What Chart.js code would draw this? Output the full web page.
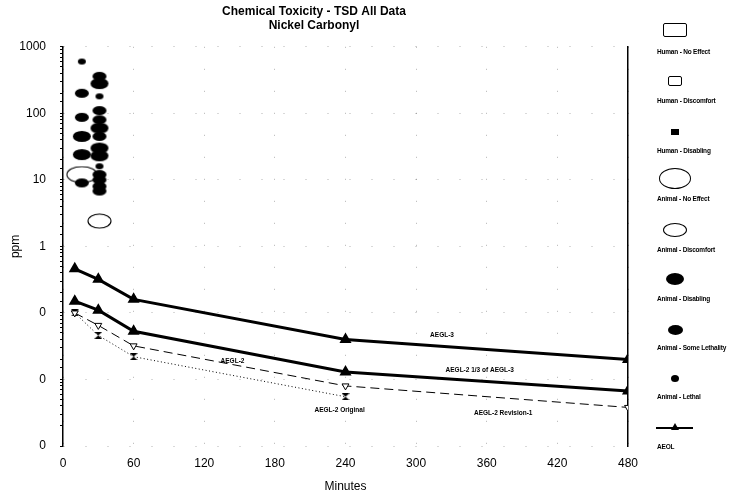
<!DOCTYPE html>
<html>
<head>
<meta charset="utf-8">
<script src="https://cdn.jsdelivr.net/npm/chart.js@4.4.0/dist/chart.umd.min.js"></script>
<style>
  html, body { margin: 0; padding: 0; background: #fff; }
  #wrap { position: relative; width: 741px; height: 496px; font-family: 'Liberation Sans', Arial, sans-serif; }
  #c { position: absolute; left: 0; top: 0; }
  .sym { position: absolute; box-sizing: border-box; }
  .lab { position: absolute; font-size: 6.5px; font-weight: bold; color: #000; white-space: nowrap; letter-spacing: -0.2px; }
</style>
</head>
<body>
<div id="wrap">
  <canvas id="c" width="741" height="496"></canvas>
  <div id="legend"></div>
</div>
<script>
// ---- data ----
const xTicks = [0, 60, 120, 180, 240, 300, 360, 420, 480];
const yTickValues = [1000, 100, 10, 1, 0.1, 0.01, 0.001];

const aeglMinutes = [10, 30, 60, 240, 480];
const aegl3 = [0.46, 0.32, 0.16, 0.040, 0.020];
const aegl2Third = [0.15, 0.11, 0.053, 0.013, 0.0067];
const aegl2Rev1 = [0.10, 0.065, 0.032, 0.0080, 0.0038];
const originalMinutes = [10, 30, 60, 240];
const aegl2Original = [0.10, 0.046, 0.022, 0.0055];

const animalNoEffectMin = [16];
const animalNoEffectPpm = [12];
const animalDiscomfortMin = [31];
const animalDiscomfortPpm = [2.4];
const animalDisablingMin = [16, 16, 31, 31, 31, 31];
const animalDisablingPpm = [45, 24, 280, 60, 30, 23];
const animalSomeLethalMin = [16, 16, 16, 31, 31, 31, 31, 31, 31, 31, 31];
const animalSomeLethalPpm = [200, 87, 9, 360, 110, 80, 45, 12, 10, 8, 6.8];
const animalLethalMin = [16, 31, 31];
const animalLethalPpm = [600, 180, 16];

const lineLabels = ['AEGL-3', 'AEGL-2 1/3 of AEGL-3', 'AEGL-2', 'AEGL-2 Original', 'AEGL-2 Revision-1'];
const lineLabelMin = [322, 354, 144, 235, 374];
const lineLabelPpm = [0.046, 0.0136, 0.0186, 0.0035, 0.0031];

const legendNames = ['Human - No Effect', 'Human - Discomfort', 'Human - Disabling', 'Animal - No Effect',
  'Animal - Discomfort', 'Animal - Disabling', 'Animal - Some Lethality', 'Animal - Lethal', 'AEOL'];

// ---- marker images ----
function ellipse(w, h, filled) {
  const c = document.createElement('canvas');
  c.width = w + 2; c.height = h + 2;
  const g = c.getContext('2d');
  g.beginPath();
  g.ellipse((w + 2) / 2, (h + 2) / 2, w / 2, h / 2, 0, 0, Math.PI * 2);
  if (filled) { g.fillStyle = '#000'; g.fill(); }
  else { g.strokeStyle = '#000'; g.lineWidth = 1.1; g.stroke(); }
  return c;
}
function hourglass(w, h) {
  const c = document.createElement('canvas');
  c.width = w; c.height = h;
  const g = c.getContext('2d');
  g.fillStyle = '#000';
  g.beginPath(); g.moveTo(0, 0); g.lineTo(w, 0); g.lineTo(0, h); g.lineTo(w, h); g.closePath(); g.fill();
  return c;
}
const pts = (xs, ys) => xs.map((x, i) => ({ x, y: ys[i] }));

const isDecade = v => Math.abs(Math.log10(v) - Math.round(Math.log10(v))) < 1e-9;

const lineLabelPlugin = {
  id: 'lineLabels',
  afterDatasetsDraw(chart) {
    const { ctx, scales: { x, y } } = chart;
    ctx.save();
    ctx.font = 'bold 6.5px "Liberation Sans", Arial, sans-serif';
    ctx.fillStyle = '#000';
    ctx.textAlign = 'center';
    ctx.textBaseline = 'middle';
    lineLabels.forEach((t, i) => ctx.fillText(t, x.getPixelForValue(lineLabelMin[i]), y.getPixelForValue(lineLabelPpm[i])));
    ctx.restore();
  }
};

new Chart(document.getElementById('c'), {
  type: 'scatter',
  data: {
    datasets: [
      { label: 'Animal - No Effect', data: pts(animalNoEffectMin, animalNoEffectPpm), pointStyle: ellipse(30, 16, false) },
      { label: 'Animal - Discomfort', data: pts(animalDiscomfortMin, animalDiscomfortPpm), pointStyle: ellipse(23, 14, false) },
      { label: 'Animal - Disabling', data: pts(animalDisablingMin, animalDisablingPpm), pointStyle: ellipse(18, 11, true) },
      { label: 'Animal - Some Lethality', data: pts(animalSomeLethalMin, animalSomeLethalPpm), pointStyle: ellipse(14, 9, true) },
      { label: 'Animal - Lethal', data: pts(animalLethalMin, animalLethalPpm), pointStyle: ellipse(8, 6, true) },
      { label: 'AEGL-3', data: pts(aeglMinutes, aegl3), showLine: true, borderColor: '#000', borderWidth: 3,
        pointStyle: 'triangle', pointRadius: 4, backgroundColor: '#000', pointBorderColor: '#000' },
      { label: 'AEGL-2 1/3 of AEGL-3', data: pts(aeglMinutes, aegl2Third), showLine: true, borderColor: '#000', borderWidth: 3,
        pointStyle: 'triangle', pointRadius: 4, backgroundColor: '#000', pointBorderColor: '#000' },
      { label: 'AEGL-2 Revision-1', data: pts(aeglMinutes, aegl2Rev1), showLine: true, borderColor: '#000', borderWidth: 1,
        borderDash: [9, 5], pointStyle: 'triangle', pointRotation: 180, pointRadius: 4, backgroundColor: '#fff',
        pointBackgroundColor: '#fff', pointBorderColor: '#000', pointBorderWidth: 1 },
      { label: 'AEGL-2 Original', data: pts(originalMinutes, aegl2Original), showLine: true, borderColor: '#000', borderWidth: 1,
        borderDash: [1, 2.5], pointStyle: hourglass(8, 7) }
    ]
  },
  options: {
    responsive: false,
    animation: false,
    events: [],
    layout: { padding: { left: 0, right: 113, top: 0, bottom: 0 } },
    plugins: {
      legend: { display: false },
      tooltip: { enabled: false },
      title: {
        display: true,
        text: ['Chemical Toxicity - TSD All Data', 'Nickel Carbonyl'],
        color: '#000',
        font: { family: '"Liberation Sans", Arial, sans-serif', size: 12, weight: 'bold', lineHeight: 1.2 },
        padding: { top: 4, bottom: 14 }
      }
    },
    scales: {
      x: {
        type: 'linear', min: 0, max: 480,
        afterBuildTicks: s => { s.ticks = xTicks.map(v => ({ value: v })); },
        afterFit: s => { s.height = 50; },
        ticks: { color: '#000', padding: 10, font: { family: '"Liberation Sans", Arial, sans-serif', size: 12 } },
        grid: { color: 'rgba(0,0,0,0.3)', lineWidth: 1, drawTicks: false },
        border: { display: false, dash: [1, 21] },
        title: { display: true, text: 'Minutes', color: '#000', padding: { top: 0, bottom: 2 },
          font: { family: '"Liberation Sans", Arial, sans-serif', size: 12 } }
      },
      y: {
        type: 'logarithmic', min: 0.001, max: 1000,
        afterFit: s => { s.width = 63; },
        ticks: {
          color: '#000', padding: 14, autoSkip: false,
          font: { family: '"Liberation Sans", Arial, sans-serif', size: 12 },
          callback: v => isDecade(v) ? (v >= 1 ? String(Math.round(v)) : '0') : ''
        },
        grid: {
          color: c => (c.tick && isDecade(c.tick.value)) ? 'rgba(0,0,0,0.3)' : 'rgba(0,0,0,0)',
          tickColor: '#000', tickLength: 3, lineWidth: 1
        },
        border: { display: true, color: '#000', width: 1.5, dash: [1, 21] },
        title: { display: true, text: 'ppm', color: '#000', padding: { top: 8, bottom: 0 },
          font: { family: '"Liberation Sans", Arial, sans-serif', size: 12 } }
      },
      yr: {
        type: 'linear', position: 'right', min: 0, max: 1,
        afterFit: s => { s.width = 0; },
        ticks: { display: false },
        grid: { drawOnChartArea: false, drawTicks: false },
        border: { display: true, color: '#000', width: 1.5 }
      }
    }
  },
  plugins: [lineLabelPlugin]
});

// ---- HTML legend ----
const legendSymbols = [
  { top: 23, w: 24, h: 14, css: 'border:1px solid #000;border-radius:2px;' },
  { top: 76, w: 14, h: 10, css: 'border:1px solid #000;border-radius:2px;' },
  { top: 129, w: 8, h: 6, css: 'background:#000;' },
  { top: 168, w: 32, h: 21, css: 'border:1px solid #000;border-radius:50%;' },
  { top: 223, w: 24, h: 14, css: 'border:1px solid #000;border-radius:50%;' },
  { top: 273, w: 18, h: 12, css: 'background:#000;border-radius:50%;' },
  { top: 325, w: 15, h: 10, css: 'background:#000;border-radius:50%;' },
  { top: 375, w: 8, h: 7, css: 'background:#000;border-radius:50%;' }
];
const labelTops = [52, 101, 151, 199, 250, 299, 348, 397, 447];
const lg = document.getElementById('legend');
legendNames.forEach((name, i) => {
  const s = legendSymbols[i];
  if (s) {
    const d = document.createElement('div');
    d.className = 'sym';
    d.style.cssText = `left:${675 - s.w / 2}px;top:${s.top}px;width:${s.w}px;height:${s.h}px;` + s.css;
    lg.appendChild(d);
  } else {
    const d = document.createElement('div');
    d.className = 'sym';
    d.style.cssText = 'left:656px;top:427px;width:37px;height:2px;background:#000;';
    lg.appendChild(d);
    const t = document.createElement('div');
    t.className = 'sym';
    t.style.cssText = 'left:671px;top:423px;width:0;height:0;border-left:4px solid transparent;border-right:4px solid transparent;border-bottom:7px solid #000;';
    lg.appendChild(t);
  }
  const l = document.createElement('div');
  l.className = 'lab';
  l.style.cssText = `left:657px;top:${labelTops[i] - 4}px;`;
  l.textContent = name;
  lg.appendChild(l);
});
</script>
</body>
</html>
